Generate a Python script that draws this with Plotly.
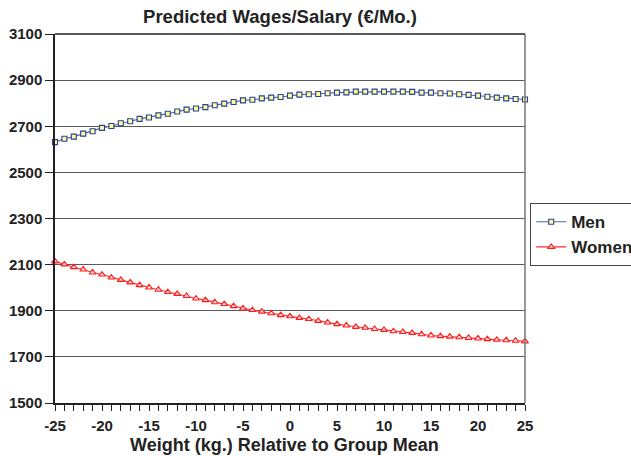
import plotly.graph_objects as go

weight = list(range(-25, 26))

men = [2631, 2646, 2655, 2668, 2678, 2693, 2701, 2713, 2722, 2732,
       2738, 2747, 2754, 2764, 2772, 2777, 2783, 2791, 2798, 2805,
       2812, 2815, 2821, 2824, 2827, 2833, 2837, 2839, 2840, 2843,
       2846, 2847, 2850, 2850, 2850, 2850, 2850, 2850, 2849, 2846,
       2846, 2843, 2842, 2839, 2836, 2833, 2828, 2824, 2821, 2818, 2816]

women = [2114, 2101, 2089, 2079, 2066, 2057, 2044, 2034, 2023, 2011,
         2001, 1991, 1981, 1973, 1964, 1953, 1946, 1937, 1929, 1920,
         1910, 1903, 1896, 1889, 1881, 1876, 1869, 1864, 1856, 1849,
         1842, 1836, 1830, 1826, 1821, 1817, 1811, 1808, 1804, 1798,
         1793, 1790, 1788, 1785, 1782, 1780, 1777, 1774, 1772, 1770, 1767]

x_ticks = [-25, -20, -15, -10, -5, 0, 5, 10, 15, 20, 25]
y_ticks = [1500, 1700, 1900, 2100, 2300, 2500, 2700, 2900, 3100]

FONT = "Liberation Sans, Arial, sans-serif"
TXT = "#222222"
W, H = 631, 456
ML, MR, MT, MB = 55, 106, 34, 53

fig = go.Figure()
fig.add_trace(go.Scatter(
    x=weight, y=men, name="<b>Men</b>", mode="lines+markers",
    line=dict(color="#4a64b0", width=1.1),
    marker=dict(symbol="square", size=5, color="#ffff99",
                line=dict(color="#2b3f95", width=1.1)),
    cliponaxis=False,
))
fig.add_trace(go.Scatter(
    x=weight, y=women, name="<b>Women</b>", mode="lines+markers",
    line=dict(color="#ff2a2a", width=1.1),
    marker=dict(symbol="triangle-up", size=6, color="#ffd6d6",
                line=dict(color="#ff1a1a", width=1.1)),
    cliponaxis=False,
))

fig.update_layout(
    width=W, height=H,
    margin=dict(l=ML, r=MR, t=MT, b=MB, autoexpand=False),
    paper_bgcolor="white", plot_bgcolor="white",
    font=dict(family=FONT, color=TXT),
    title=dict(text="<b>Predicted Wages/Salary (€/Mo.)</b>",
               x=280 / W, xanchor="center",
               y=1 - 17 / H, yanchor="middle",
               font=dict(size=18.5, family=FONT, color=TXT)),
    showlegend=True,
    legend=dict(x=(530 - ML) / (W - ML - MR), xanchor="left",
                y=(H - MB - 203) / (H - MT - MB), yanchor="top",
                bordercolor="#444444", borderwidth=1.2,
                font=dict(size=17, family=FONT, color=TXT),
                itemwidth=30),
    annotations=[dict(
        text="<b>Weight (kg.) Relative to Group Mean</b>",
        xref="paper", yref="paper",
        x=(284.5 - ML) / (W - ML - MR), xanchor="center",
        y=(H - MB - 445) / (H - MT - MB), yanchor="middle",
        showarrow=False, font=dict(size=18, family=FONT, color=TXT),
    )],
)

fig.update_xaxes(
    range=[-25, 25], tickvals=x_ticks,
    ticktext=["<b>%d</b>" % v for v in x_ticks],
    ticks="outside", ticklen=6, tickcolor=TXT, tickwidth=1,
    ticklabelstandoff=2,
    minor=dict(dtick=1, tick0=0, ticks="outside", ticklen=6,
               tickcolor=TXT, tickwidth=1, showgrid=False),
    showline=True, linecolor=TXT, linewidth=1.5, mirror=False,
    showgrid=False, zeroline=False, automargin=False,
    tickfont=dict(size=15, family=FONT, color=TXT),
)
fig.update_yaxes(
    range=[1500, 3100], tickvals=y_ticks,
    ticktext=["<b>%d</b>" % v for v in y_ticks],
    ticks="outside", ticklen=8, tickcolor=TXT, tickwidth=1,
    showline=True, linecolor=TXT, linewidth=1.5,
    showgrid=True, gridcolor="#5a5a5a", gridwidth=1.4,
    zeroline=False, automargin=False,
    tickfont=dict(size=15, family=FONT, color=TXT),
)

# right and top border of plot area
fig.add_shape(type="line", xref="paper", yref="paper", x0=1, x1=1, y0=0, y1=1,
              line=dict(color="#777777", width=1.5))
fig.add_shape(type="line", xref="paper", yref="paper", x0=0, x1=1, y0=1, y1=1,
              line=dict(color=TXT, width=1.5))

fig.write_html("out.html",
               config={"displayModeBar": False},
               post_script="document.body.style.margin='0px';"
                           "document.body.style.overflow='hidden';")
